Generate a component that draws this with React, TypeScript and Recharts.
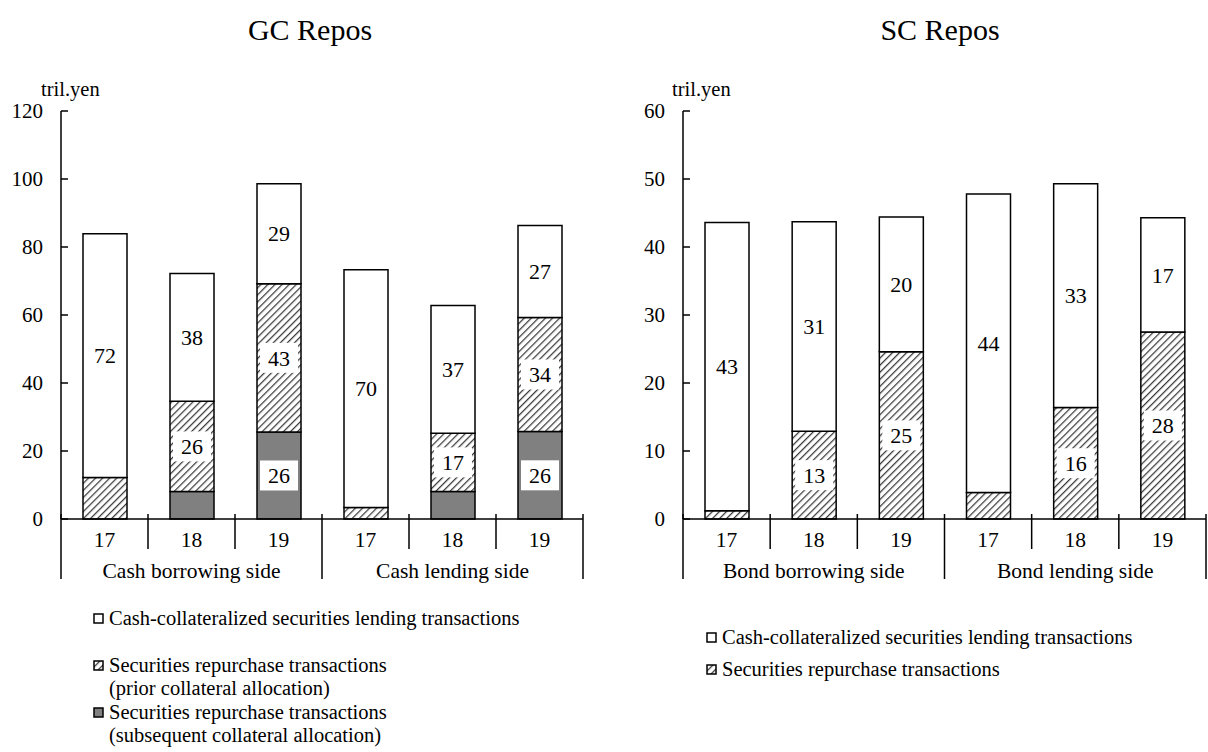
import React from 'react'
import { BarChart, Bar, XAxis, YAxis, LabelList } from 'recharts'

// categories (fiscal years) and side groups
const years = ['17', '18', '19', '17', '18', '19']
const gcGroups = ['Cash borrowing side', 'Cash lending side']
const scGroups = ['Bond borrowing side', 'Bond lending side']

// GC repos, tril. yen
const gcSubsequent = [0, 8.1, 25.6, 0, 8.1, 25.7]
const gcPrior = [12.2, 26.5, 43.6, 3.4, 17.1, 33.6]
const gcCash = [71.7, 37.6, 29.4, 69.9, 37.6, 27.0]
// printed figures
const gcSubsequentLabels = [null, null, 26, null, null, 26]
const gcPriorLabels = [null, 26, 43, null, 17, 34]
const gcCashLabels = [72, 38, 29, 70, 37, 27]

// SC repos, tril. yen
const scRepo = [1.2, 12.9, 24.6, 3.9, 16.4, 27.5]
const scCash = [42.4, 30.8, 19.8, 43.9, 32.9, 16.8]
const scRepoLabels = [null, 13, 25, null, 16, 28]
const scCashLabels = [43, 31, 20, 44, 33, 17]

const gcTicks = [0, 20, 40, 60, 80, 100, 120]
const scTicks = [0, 10, 20, 30, 40, 50, 60]

const FONT = 'Liberation Serif, Tinos, Times New Roman, DejaVu Serif, serif'
const GRAY = '#808080'
const HATCH = 'url(#hatch)'

const gcData = years.map((y, i) => ({
  year: y,
  subsequent: gcSubsequent[i],
  prior: gcPrior[i],
  cash: gcCash[i],
  subsequentLabel: gcSubsequentLabels[i],
  priorLabel: gcPriorLabels[i],
  cashLabel: gcCashLabels[i],
}))

const scData = years.map((y, i) => ({
  year: y,
  repo: scRepo[i],
  cash: scCash[i],
  repoLabel: scRepoLabels[i],
  cashLabel: scCashLabels[i],
}))

const CHART_H = 600
const MARGIN_TOP = 111
const X_AXIS_H = 70
const Y_AXIS_W = 61

function makeXTick(groups: string[], band: number) {
  return function XTick(props: any) {
    const { x, y, payload, index } = props
    const left = x - band / 2
    return (
      <g>
        <text x={x} y={y + 20} dy="0.35em" textAnchor="middle" fontSize={21.5} style={{ fontFamily: FONT }} fill="#000">
          {payload.value}
        </text>
        <line x1={left} x2={left} y1={y - 5} y2={y + (index % 3 === 0 ? 60 : 30)} stroke="#000" strokeWidth={1.5} />
        {index === years.length - 1 && (
          <line x1={x + band / 2} x2={x + band / 2} y1={y - 5} y2={y + 60} stroke="#000" strokeWidth={1.5} />
        )}
        {index % 3 === 1 && (
          <text x={x} y={y + 51} dy="0.35em" textAnchor="middle" fontSize={21.5} style={{ fontFamily: FONT }} fill="#000">
            {groups[Math.floor(index / 3)]}
          </text>
        )}
      </g>
    )
  }
}

function YTick(props: any) {
  const { x, y, payload } = props
  return (
    <g>
      <line x1={x} x2={x + 7} y1={y} y2={y} stroke="#000" strokeWidth={1.5} />
      <text x={x - 18} y={y} dy="0.35em" textAnchor="end" fontSize={21} style={{ fontFamily: FONT }} fill="#000">
        {payload.value}
      </text>
    </g>
  )
}

function segLabel(boxed: boolean) {
  return function SegLabel(props: any) {
    const { x, y, width, height, value } = props
    if (value === null || value === undefined) return null
    const cx = x + width / 2
    const cy = y + height / 2
    return (
      <g>
        {boxed && <rect x={cx - 19} y={cy - 15} width={38} height={30} fill="#fff" />}
        <text x={cx} y={cy} dy="0.35em" textAnchor="middle" fontSize={22} style={{ fontFamily: FONT }} fill="#000">
          {value}
        </text>
      </g>
    )
  }
}

function unitLabel(dx: number) {
  return function Unit(props: any) {
    const vb = props.viewBox || {}
    return (
      <text x={vb.x + vb.width + dx} y={vb.y - 15} fontSize={20.5} style={{ fontFamily: FONT }} fill="#000">
        tril.yen
      </text>
    )
  }
}

function Swatch({ fill }: { fill: string }) {
  return (
    <svg width={11} height={11} style={{ marginRight: 5, flex: 'none' }}>
      <rect x={1} y={1} width={9} height={9} fill={fill} stroke="#000" strokeWidth={1.5} />
    </svg>
  )
}

function LegendItem({ fill, lines, top, left }: { fill: string; lines: string[]; top: number; left: number }) {
  return (
    <div style={{ position: 'absolute', top, left, display: 'flex', alignItems: 'flex-start', fontFamily: FONT, fontSize: 20.5, lineHeight: '23px' }}>
      <div style={{ height: 23, display: 'flex', alignItems: 'center' }}>
        <Swatch fill={fill} />
      </div>
      <div style={{ whiteSpace: 'nowrap' }}>
        {lines.map((l, i) => (
          <div key={i}>{l}</div>
        ))}
      </div>
    </div>
  )
}

export default function App() {
  const gcW = 620
  const gcRight = 37
  const gcBand = (gcW - Y_AXIS_W - gcRight) / years.length
  const scW = 586
  const scRight = 2
  const scBand = (scW - Y_AXIS_W - scRight) / years.length

  return (
    <div style={{ position: 'absolute', left: 0, top: 0, width: 1208, height: 752, background: '#fff', fontFamily: FONT }}>
      <svg width={0} height={0} style={{ position: 'absolute' }}>
        <defs>
          <pattern id="hatch" patternUnits="userSpaceOnUse" width={5} height={5} patternTransform="rotate(45)">
            <rect width={5} height={5} fill="#fff" />
            <line x1={0} y1={0} x2={0} y2={5} stroke="#3a3a3a" strokeWidth={2.5} />
          </pattern>
        </defs>
      </svg>

      <div style={{ position: 'absolute', left: 160, width: 300, top: 12, lineHeight: '36px', textAlign: 'center', fontSize: 30 }}>GC Repos</div>
      <div style={{ position: 'absolute', left: 790, width: 300, top: 12, lineHeight: '36px', textAlign: 'center', fontSize: 30 }}>SC Repos</div>

      <div style={{ position: 'absolute', left: 0, top: 0 }}>
        <BarChart width={gcW} height={CHART_H} data={gcData} margin={{ top: MARGIN_TOP, right: gcRight, left: 0, bottom: 11 }} barSize={44}>
          <XAxis
            dataKey="year"
            interval={0}
            height={X_AXIS_H}
            tickSize={0}
            tickMargin={0}
            tickLine={false}
            axisLine={{ stroke: '#000', strokeWidth: 1.5 }}
            tick={makeXTick(gcGroups, gcBand)}
          />
          <YAxis
            width={Y_AXIS_W}
            domain={[0, 120]}
            ticks={gcTicks}
            interval={0}
            tickSize={0}
            tickMargin={0}
            tickLine={false}
            axisLine={{ stroke: '#000', strokeWidth: 1.5 }}
            tick={YTick}
            label={{ content: unitLabel(-20) }}
          />
          <Bar dataKey="subsequent" stackId="a" fill={GRAY} stroke="#000" strokeWidth={1.5} isAnimationActive={false}>
            <LabelList dataKey="subsequentLabel" content={segLabel(true)} />
          </Bar>
          <Bar dataKey="prior" stackId="a" fill={HATCH} stroke="#000" strokeWidth={1.5} isAnimationActive={false}>
            <LabelList dataKey="priorLabel" content={segLabel(true)} />
          </Bar>
          <Bar dataKey="cash" stackId="a" fill="#fff" stroke="#000" strokeWidth={1.5} isAnimationActive={false}>
            <LabelList dataKey="cashLabel" content={segLabel(false)} />
          </Bar>
        </BarChart>
      </div>

      <div style={{ position: 'absolute', left: 622, top: 0 }}>
        <BarChart width={scW} height={CHART_H} data={scData} margin={{ top: MARGIN_TOP, right: scRight, left: 0, bottom: 11 }} barSize={44}>
          <XAxis
            dataKey="year"
            interval={0}
            height={X_AXIS_H}
            tickSize={0}
            tickMargin={0}
            tickLine={false}
            axisLine={{ stroke: '#000', strokeWidth: 1.5 }}
            tick={makeXTick(scGroups, scBand)}
          />
          <YAxis
            width={Y_AXIS_W}
            domain={[0, 60]}
            ticks={scTicks}
            interval={0}
            tickSize={0}
            tickMargin={0}
            tickLine={false}
            axisLine={{ stroke: '#000', strokeWidth: 1.5 }}
            tick={YTick}
            label={{ content: unitLabel(-11) }}
          />
          <Bar dataKey="repo" stackId="a" fill={HATCH} stroke="#000" strokeWidth={1.5} isAnimationActive={false}>
            <LabelList dataKey="repoLabel" content={segLabel(true)} />
          </Bar>
          <Bar dataKey="cash" stackId="a" fill="#fff" stroke="#000" strokeWidth={1.5} isAnimationActive={false}>
            <LabelList dataKey="cashLabel" content={segLabel(false)} />
          </Bar>
        </BarChart>
      </div>

      <LegendItem fill="#fff" lines={['Cash-collateralized securities lending transactions']} top={607} left={93} />
      <LegendItem fill={HATCH} lines={['Securities repurchase transactions', '(prior collateral allocation)']} top={654} left={93} />
      <LegendItem fill={GRAY} lines={['Securities repurchase transactions', '(subsequent collateral allocation)']} top={701} left={93} />

      <LegendItem fill="#fff" lines={['Cash-collateralized securities lending transactions']} top={626} left={706} />
      <LegendItem fill={HATCH} lines={['Securities repurchase transactions']} top={658} left={706} />
    </div>
  )
}
